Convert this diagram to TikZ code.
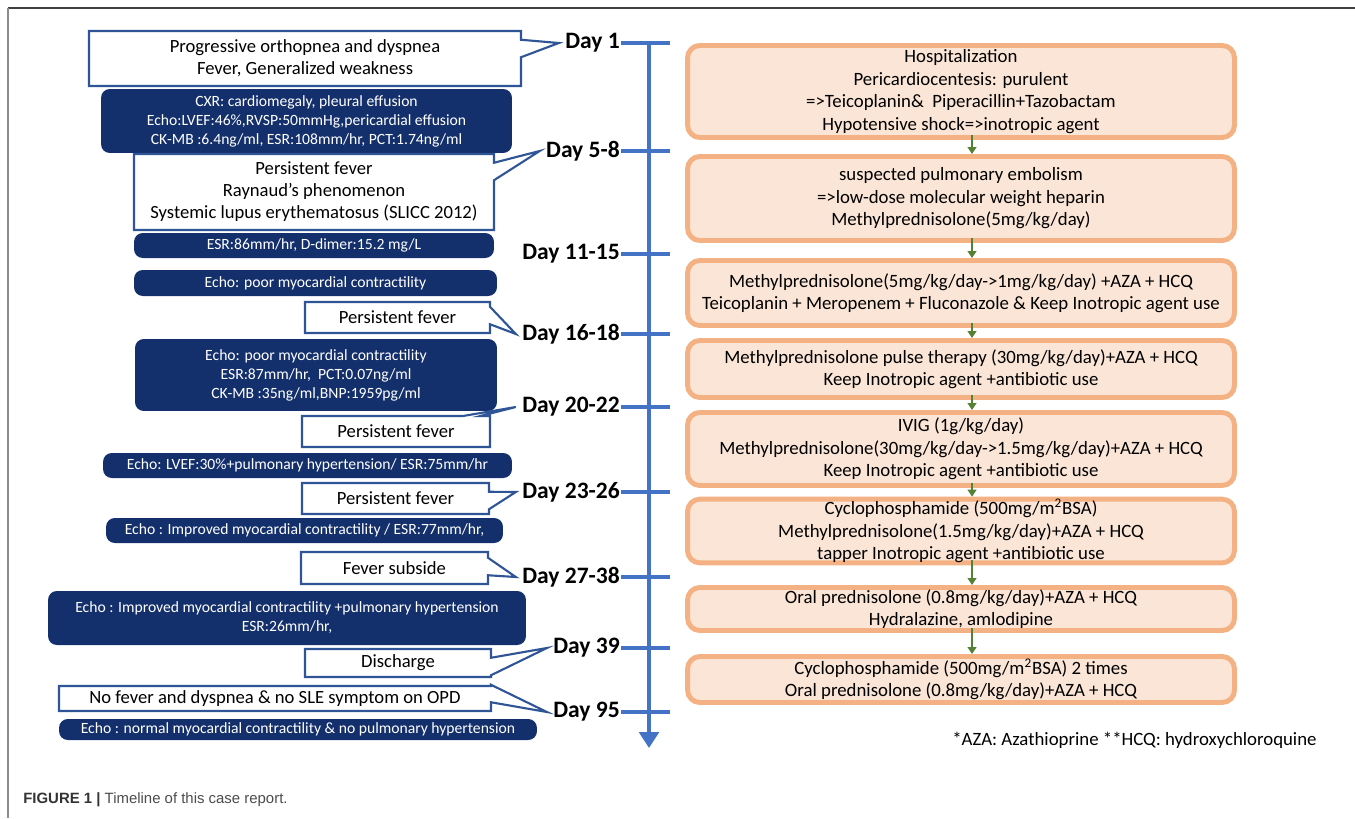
\documentclass[tikz,border=0pt]{standalone}
\usepackage{fontspec}
\setmainfont{Carlito}
\newfontfamily\captionfont{Liberation Sans}
\usetikzlibrary{shapes.callouts,arrows.meta}

\definecolor{planfill}{HTML}{FBE5D6}
\definecolor{planline}{HTML}{F4B183}
\definecolor{navy}{HTML}{14306C}
\definecolor{calloutline}{HTML}{2F5597}
\definecolor{axisblue}{HTML}{4472C4}
\definecolor{flowgreen}{HTML}{548235}

\begin{document}
\begin{tikzpicture}[x=0.02cm,y=-0.02cm]
  \tikzset{
    daylabel/.style={font=\fontsize{13.4}{15}\selectfont\bfseries, anchor=east, inner sep=0.5pt},
    plan/.style={draw=planline, line width=2.8pt, fill=planfill, rounded corners=7pt,
      align=center, inner sep=0pt, minimum width=10.94cm, font=\fontsize{10.7}{12.8}\selectfont},
    finding/.style={fill=navy, text=white, rounded corners=5pt, align=center, inner sep=0pt,
      font=\fontsize{8.9}{10.8}\selectfont},
    symptom/.style={rectangle callout, draw=calloutline, line width=1.2pt, fill=white,
      align=center, inner sep=0pt, callout pointer width=0.35cm, font=\fontsize{10.6}{12.5}\selectfont},
    tick/.style={axisblue, line width=2.3pt},
    flow/.style={flowgreen, line width=1.1pt, -{Triangle[width=5pt,length=4pt]}}
  }
  \useasboundingbox (0,0) rectangle (1355,818);

  % Frame
  \draw[black!75, line width=1pt] (8,8) -- (1355,8);
  \draw[black!45, line width=1pt] (8,8) -- (8,818);

  % Day labels
  \node[daylabel] (d1) at (621,43) {Day 1};
  \node[daylabel] (d2) at (621,151) {Day 5-8};
  \node[daylabel] (d3) at (621,254) {Day 11-15};
  \node[daylabel] (d4) at (621,334) {Day 16-18};
  \node[daylabel] (d5) at (621,407) {Day 20-22};
  \node[daylabel] (d6) at (621,492) {Day 23-26};
  \node[daylabel] (d7) at (621,577) {Day 27-38};
  \node[daylabel] (d8) at (621,648) {Day 39};
  \node[daylabel] (d9) at (621,712) {Day 95};

  % Time axis
  \coordinate (axistop) at (649,43);
  \coordinate (axisend) at (649,748);
  \draw[axisblue, line width=2.8pt, -{Triangle[width=11pt,length=9pt]}] (axistop) -- (axisend);
  \foreach \d in {d1,d2,d3,d4,d5,d6,d7,d8,d9}
    \draw[tick] (\d.east) -- ++(49,0);

  % Treatment
  \node[plan, minimum height=1.84cm] (p1) at (961,91.5) {Hospitalization\\Pericardiocentesis: purulent\\=>Teicoplanin\&\ \ Piperacillin+Tazobactam\\Hypotensive shock=>inotropic agent};
  \node[plan, minimum height=1.68cm] (p2) at (961,198.5) {suspected pulmonary embolism\\=>low-dose molecular weight heparin\\Methylprednisolone(5mg/kg/day)};
  \node[plan, minimum height=1.3cm] (p3) at (961,293) {Methylprednisolone(5mg/kg/day->1mg/kg/day) +AZA + HCQ\\Teicoplanin + Meropenem + Fluconazole \& Keep Inotropic agent use};
  \node[plan, minimum height=1.14cm] (p4) at (961,369) {Methylprednisolone pulse therapy (30mg/kg/day)+AZA + HCQ\\Keep Inotropic agent +antibiotic use};
  \node[plan, minimum height=1.46cm] (p5) at (961,449) {IVIG (1g/kg/day)\\Methylprednisolone(30mg/kg/day->1.5mg/kg/day)+AZA + HCQ\\Keep Inotropic agent +antibiotic use};
  \node[plan, minimum height=1.26cm] (p6) at (961,531) {Cyclophosphamide (500mg/m\textsuperscript{2}BSA)\\Methylprednisolone(1.5mg/kg/day)+AZA + HCQ\\tapper Inotropic agent +antibiotic use};
  \node[plan, minimum height=0.86cm] (p7) at (961,609) {Oral prednisolone (0.8mg/kg/day)+AZA + HCQ\\Hydralazine, amlodipine};
  \node[plan, minimum height=0.92cm] (p8) at (961,679.5) {Cyclophosphamide (500mg/m\textsuperscript{2}BSA) 2 times\\Oral prednisolone (0.8mg/kg/day)+AZA + HCQ};
  \foreach \a/\b in {p1/p2,p2/p3,p3/p4,p4/p5,p5/p6,p6/p7,p7/p8}
    \draw[flow] ([xshift=0.22cm,yshift=3pt]\a.south) -- ([xshift=0.22cm]\b.north);

  % Symptoms and findings
  \node[symptom, minimum width=8.64cm, minimum height=1.1cm, callout absolute pointer={([xshift=-3pt]d1.west)}] (s1) at (305,58.5) {Progressive orthopnea and dyspnea\\Fever, Generalized weakness};
  \node[finding, minimum width=8.22cm, minimum height=1.28cm] (f1) at (306.5,121) {CXR: cardiomegaly, pleural effusion\\Echo:LVEF:46\%,RVSP:50mmHg,pericardial effusion\\CK-MB :6.4ng/ml, ESR:108mm/hr, PCT:1.74ng/ml};
  \node[symptom, minimum width=7.2cm, minimum height=1.52cm, callout absolute pointer={([xshift=-3pt]d2.west)}] (s2) at (314,192) {Persistent fever\\Raynaud's phenomenon\\Systemic lupus erythematosus (SLICC 2012)};
  \node[finding, minimum width=7.2cm, minimum height=0.5cm] (f2) at (314,245.5) {ESR:86mm/hr, D-dimer:15.2 mg/L};
  \node[finding, minimum width=7.26cm, minimum height=0.52cm] (f3) at (315.5,283) {Echo: poor myocardial contractility};
  \node[symptom, minimum width=3.7cm, minimum height=0.62cm, callout absolute pointer={([xshift=-3pt]d4.west)}] (s3) at (397.5,317.5) {Persistent fever};
  \node[finding, minimum width=7.24cm, minimum height=1.44cm] (f4) at (316,375) {Echo: poor myocardial contractility\\ESR:87mm/hr,\ \ PCT:0.07ng/ml\\CK-MB :35ng/ml,BNP:1959pg/ml};
  \node[symptom, minimum width=3.76cm, minimum height=0.62cm, callout absolute pointer={([xshift=-3pt]d5.west)}] (s4) at (396,431.5) {Persistent fever};
  \node[finding, minimum width=8.18cm, minimum height=0.5cm] (f5) at (307.5,465.5) {Echo: LVEF:30\%+pulmonary hypertension/ ESR:75mm/hr};
  \node[symptom, minimum width=3.74cm, minimum height=0.62cm, callout absolute pointer={([xshift=-3pt]d6.west)}] (s5) at (395.5,498.5) {Persistent fever};
  \node[finding, minimum width=7.94cm, minimum height=0.5cm] (f6) at (304.5,530.5) {Echo : Improved myocardial contractility / ESR:77mm/hr,};
  \node[symptom, minimum width=3.74cm, minimum height=0.64cm, callout absolute pointer={([xshift=-3pt]d7.west)}] (s6) at (394.5,568) {Fever subside};
  \node[finding, minimum width=9.56cm, minimum height=1.08cm] (f7) at (287,618) {Echo : Improved myocardial contractility +pulmonary hypertension\\ESR:26mm/hr,};
  \node[symptom, minimum width=3.72cm, minimum height=0.56cm, callout absolute pointer={([xshift=-3pt]d8.west)}] (s7) at (398,663) {Discharge};
  \node[symptom, minimum width=8.64cm, minimum height=0.5cm, callout absolute pointer={([xshift=-3pt]d9.west)}] (s8) at (275,698.5) {No fever and dyspnea \& no SLE symptom on OPD};
  \node[finding, minimum width=9.56cm, minimum height=0.42cm] (f8) at (298,729.5) {Echo : normal myocardial contractility \& no pulmonary hypertension};

  % Footnote and caption
  \node[anchor=west, inner sep=0pt, font=\fontsize{10.7}{12}\selectfont] (note) at (952,740) {*AZA: Azathioprine **HCQ: hydroxychloroquine};
  \node[anchor=west, inner sep=0pt, font=\captionfont\fontsize{8.5}{10}\selectfont] (caption) at (23,800)
    {\textcolor{black!80}{\bfseries FIGURE 1 |} \textcolor{black!70}{Timeline of this case report.}};
\end{tikzpicture}
\end{document}
